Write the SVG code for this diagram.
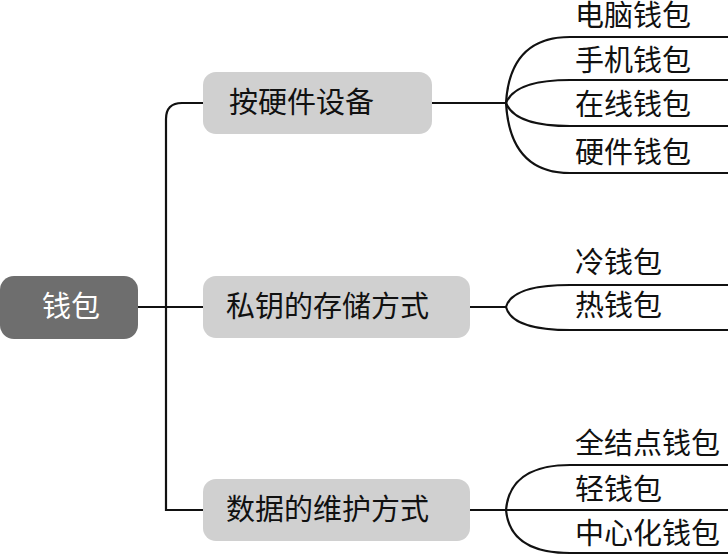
<svg xmlns="http://www.w3.org/2000/svg" width="728" height="558" viewBox="0 0 728 558">
<style>
.c{fill:none;stroke:#111;stroke-width:2.2}
.t{font-family:"Liberation Serif","Noto Sans CJK SC",serif;font-size:29px;fill:#111}
.b{fill:#d0d0d0}
</style>
<rect width="728" height="558" fill="#fff"/>
<g id="connectors">
<path class="c" d="M138,307H203"/>
<path class="c" d="M203,103H182Q166,103 166,119V510Q166,510 182,510H203"/>
<path class="c" d="M432,103H506"/>
<path class="c" d="M506,103Q510,37 570,37H728"/>
<path class="c" d="M506,103Q515,80 570,80H728"/>
<path class="c" d="M506,103Q515,126 570,126H728"/>
<path class="c" d="M506,103Q510,173 570,173H728"/>
<path class="c" d="M470,307H506"/>
<path class="c" d="M506,307Q512,285 570,285H728"/>
<path class="c" d="M506,307Q512,330 570,330H728"/>
<path class="c" d="M470,510H506"/>
<path class="c" d="M506,510Q510,465 570,465H728"/>
<path class="c" d="M506,510H728"/>
<path class="c" d="M506,510Q510,553 570,553H728"/>
</g>
<g id="root"><rect x="0" y="276" width="138" height="63" rx="14" fill="#6e6e6e"/><text x="42" y="317" font-family="Liberation Serif,'Noto Sans CJK SC',serif" font-size="29" fill="#fff">钱包</text></g>
<g id="n1"><rect class="b" x="203" y="72" width="229" height="62" rx="13"/><text class="t" x="229" y="113">按硬件设备</text></g>
<g id="n2"><rect class="b" x="203" y="276" width="267" height="62" rx="13"/><text class="t" x="226" y="317">私钥的存储方式</text></g>
<g id="n3"><rect class="b" x="203" y="479" width="267" height="62" rx="13"/><text class="t" x="226" y="520">数据的维护方式</text></g>
<g id="l1"><text class="t" x="575" y="26">电脑钱包</text></g>
<g id="l2"><text class="t" x="575" y="71">手机钱包</text></g>
<g id="l3"><text class="t" x="575" y="115">在线钱包</text></g>
<g id="l4"><text class="t" x="575" y="163">硬件钱包</text></g>
<g id="l5"><text class="t" x="575" y="273">冷钱包</text></g>
<g id="l6"><text class="t" x="575" y="316">热钱包</text></g>
<g id="l7"><text class="t" x="575" y="454">全结点钱包</text></g>
<g id="l8"><text class="t" x="575" y="500">轻钱包</text></g>
<g id="l9"><text class="t" x="575" y="544">中心化钱包</text></g>
</svg>
